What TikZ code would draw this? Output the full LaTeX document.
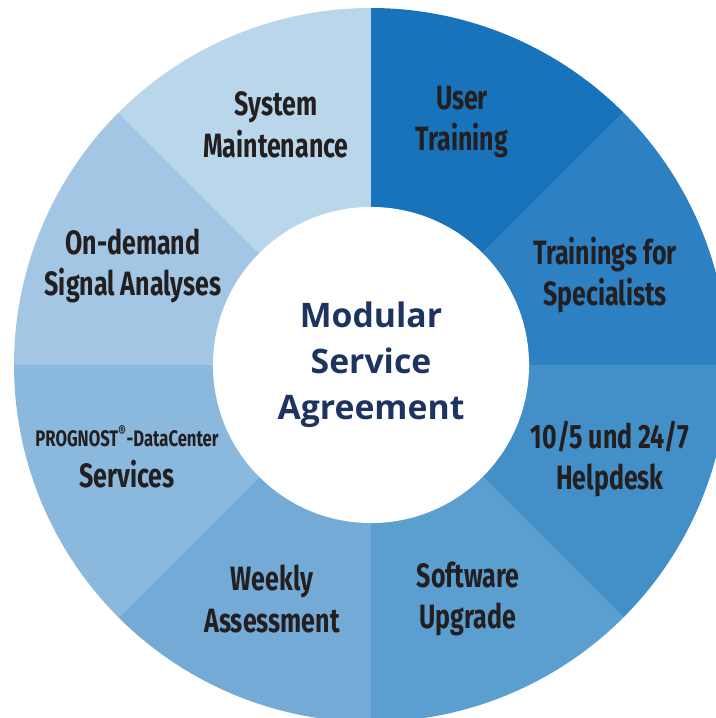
\documentclass[tikz,border=0pt]{standalone}
\usepackage{fontspec}
\setmainfont{Fira Sans}
\newfontfamily\segfont[FakeStretch=0.74]{Fira Sans}
\newfontfamily\hubfont{Open Sans}

\definecolor{segA}{HTML}{2D80C2}
\definecolor{segB}{HTML}{1873BB}
\definecolor{segC}{HTML}{BAD6EA}
\definecolor{segD}{HTML}{A2C6E3}
\definecolor{segE}{HTML}{8AB9DD}
\definecolor{segF}{HTML}{74ABD6}
\definecolor{segG}{HTML}{5B9FD0}
\definecolor{segH}{HTML}{4390C9}
\definecolor{labeltext}{HTML}{231F20}
\definecolor{hubtext}{HTML}{1D3461}

\tikzset{
  seglabel/.style={font=\segfont\bfseries\fontsize{24}{29.5}\selectfont,
    text=labeltext, align=center},
  hub/.style={circle, fill=white, minimum size=7.9cm, inner sep=0pt,
    font=\hubfont\bfseries\fontsize{24}{32.6}\selectfont,
    text=hubtext, align=center}
}

\begin{document}
\begin{tikzpicture}[x=0.025cm, y=0.025cm]
    \useasboundingbox (-371,-353) rectangle (345,365);
    \clip (-371,-353) rectangle (345,365);

    % Ring of eight service modules
    \foreach \ang/\col in {0/segA,45/segB,90/segC,135/segD,180/segE,225/segF,270/segG,315/segH}
        \fill[\col] (0,0) -- (\ang:357) arc (\ang:\ang+45:357) -- cycle;

    % Centre
    \node[hub] (hub) at (0,0) {Modular\\Service\\Agreement};

    % Module labels
    \node[seglabel] (maint) at (-95,240) {System\\Maintenance};
    \node[seglabel] (usertr) at (91,243) {User\\Training};
    \node[seglabel] (spec) at (234,90) {Trainings for\\Specialists};
    \node[seglabel] (help) at (239,-94) {10/5 und 24/7\\Helpdesk};
    \node[seglabel] (upgr) at (97,-234) {Software\\Upgrade};
    \node[seglabel] (assess) at (-99,-234) {Weekly\\Assessment};
    \node[seglabel] (dcserv) at (-244,-92)
        {{\fontsize{16}{26}\selectfont PROGNOST\textsuperscript{\textregistered}-DataCenter}\\Services};
    \node[seglabel] (signal) at (-238,99) {On-demand\\Signal Analyses};
\end{tikzpicture}
\end{document}
